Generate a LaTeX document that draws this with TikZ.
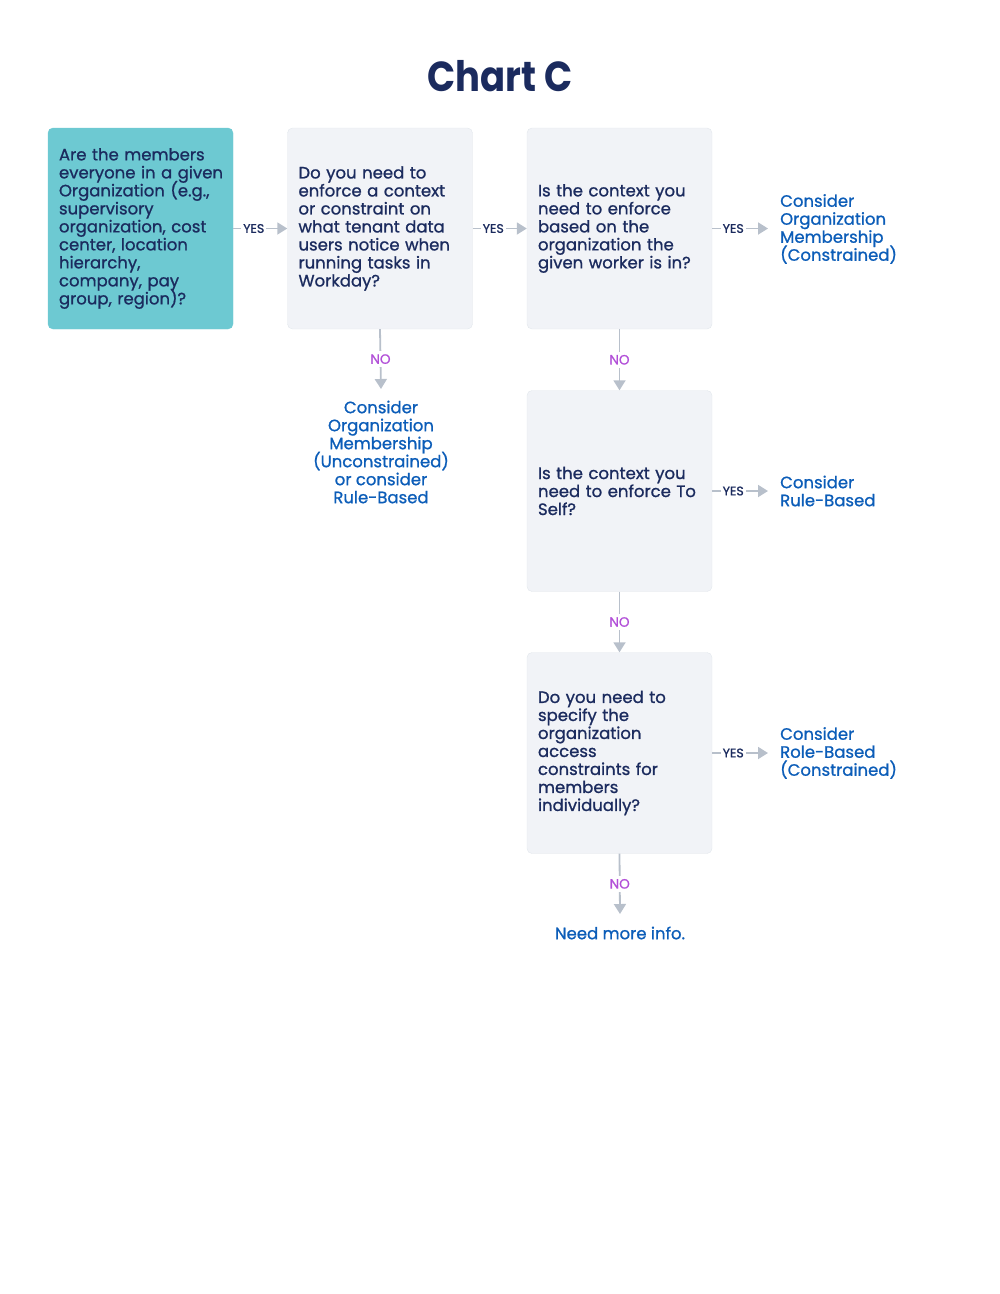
\documentclass[tikz,border=0pt]{standalone}
\usepackage{fontspec}
\setmainfont{Poppins}[FakeBold=1.0]
\newfontfamily\titlefont{Poppins}[FakeStretch=0.88]
\usetikzlibrary{arrows.meta}
\definecolor{navy}{HTML}{1B2B5E}
\definecolor{qteal}{HTML}{6DC9D2}
\definecolor{qgray}{HTML}{F1F3F7}
\definecolor{qedge}{HTML}{E2E7EC}
\definecolor{linkgray}{HTML}{B8C0CB}
\definecolor{ansblue}{HTML}{0C5DB8}
\definecolor{nopurple}{HTML}{B24FD8}
\newcommand{\chartfont}{\fontsize{16.5}{18}\selectfont\lineskiplimit=-20pt}

\begin{document}
\begin{tikzpicture}
    [x=1pt,y=-1pt,every node/.style={inner sep=0pt},
    question/.style={rectangle,rounded corners=5pt,draw=qedge,fill=qgray,text=navy,
      minimum width=185pt,minimum height=201pt,inner xsep=11pt,text width=163pt,
      align=left,font=\chartfont},
    answer/.style={text=ansblue,font=\chartfont},
    link/.style={draw=linkgray,line width=1.8pt,-{Triangle[width=12pt,length=10pt]}},
    yes/.style={fill=white,inner xsep=2pt,text=navy,font=\fontsize{12.5}{13}\selectfont},
    no/.style={fill=white,inner ysep=3pt,text=nopurple,font=\fontsize{13.5}{14}\selectfont}]
      \useasboundingbox (0,0) rectangle (1000,1294);
      %\draw (0,0) rectangle (1000,1294);
      \node[text=navy,font=\titlefont\fontsize{42}{46}\selectfont\bfseries] (title) at (500,76) {Chart C};
      \node[question,fill=qteal,draw=qteal] (members) at (140.5,228.5)
        {Are the members\\everyone~in~a~given\\Organization~(e.g.,\\supervisory\\organization,~cost\\center, location\\hierarchy,\\company, pay\\group, region)?};
      \node[question] (context) at (380,228.5)
        {Do you need to\\enforce a context\\or constraint on\\what tenant data\\users notice when\\running tasks in\\Workday?};
      \node[question] (worker) at (619.5,228.5)
        {Is the context you\\need to enforce\\based on the\\organization the\\given worker is in?};
      \node[question] (self) at (619.5,491)
        {Is the context you\\need to enforce To\\Self?};
      \node[question] (individual) at (619.5,753)
        {Do you need to\\specify the\\organization\\access\\constraints for\\members\\individually?};
      \node[answer,align=center] (unconstrained) at (381,452)
        {Consider\\Organization\\Membership\\(Unconstrained)\\or consider\\Rule-Based};
      \node[answer,align=left,anchor=west] (constrained) at (780,229)
        {Consider\\Organization\\Membership\\(Constrained)};
      \node[answer,align=left,anchor=west] (rulebased) at (780,491)
        {Consider\\Rule-Based};
      \node[answer,align=left,anchor=west] (rolebased) at (780,753)
        {Consider\\Role-Based\\(Constrained)};
      \node[answer] (moreinfo) at (620,933) {Need more info.};
      % free ends of the two downward arrows
      \coordinate (unconstrained top) at (381,389);
      \coordinate (moreinfo top) at (620,914);
      \draw[link] (members.east) -- node[yes,pos=0.38] {YES} (context.west);
      \draw[link] (context.east) -- node[yes,pos=0.38] {YES} (worker.west);
      \draw[link,shorten >=12pt] (worker.east) -- node[yes,pos=0.31] {YES} (worker.east -| constrained.west);
      \draw[link,shorten >=12pt] (self.east) -- node[yes,pos=0.31] {YES} (self.east -| rulebased.west);
      \draw[link,shorten >=12pt] (individual.east) -- node[yes,pos=0.31] {YES} (individual.east -| rolebased.west);
      \draw[link] (context.south) -- node[no] {NO} (unconstrained top);
      \draw[link] (worker.south) -- node[no] {NO} (self.north);
      \draw[link] (self.south) -- node[no] {NO} (individual.north);
      \draw[link] (individual.south) -- node[no] {NO} (moreinfo top);
\end{tikzpicture}
\end{document}
